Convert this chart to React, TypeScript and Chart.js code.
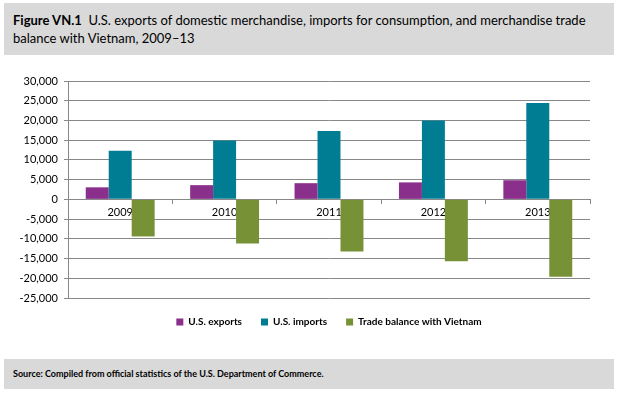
import React, { useEffect, useRef } from "react";
import { Chart, registerables } from "chart.js";

Chart.register(...registerables);

const years = ["2009", "2010", "2011", "2012", "2013"];
const usExports = [3050, 3600, 4100, 4300, 4850];
const usImports = [12300, 14900, 17300, 20000, 24400];
const tradeBalance = [-9400, -11200, -13200, -15700, -19600];
const yMin = -25000;
const yMax = 30000;
const yStep = 5000;

const FONT = "Lato, 'Open Sans', sans-serif";

// Centre the legend on the plot area (as in the original) rather than on the canvas.
const centerLegendOnPlot = {
  id: "centerLegendOnPlot",
  afterLayout(chart: any) {
    const lg = chart.legend;
    const ca = chart.chartArea;
    if (!lg || !ca) return;
    lg.left = ca.left;
    lg.right = ca.right;
    lg.width = ca.right - ca.left;
  },
};

function TradeChart() {
  const ref = useRef<HTMLCanvasElement | null>(null);
  useEffect(() => {
    if (!ref.current) return;
    const chart = new Chart(ref.current, {
      type: "bar",
      data: {
        labels: years,
        datasets: [
          { label: "U.S. exports", data: usExports, backgroundColor: "#8B2F8C" },
          { label: "U.S. imports", data: usImports, backgroundColor: "#007D92" },
          { label: "Trade balance with Vietnam", data: tradeBalance, backgroundColor: "#779137" },
        ],
      },
      plugins: [centerLegendOnPlot],
      options: {
        animation: false,
        responsive: true,
        maintainAspectRatio: false,
        layout: { padding: { left: 0, right: 30, top: 21, bottom: 13 } },
        datasets: { bar: { categoryPercentage: 0.66, barPercentage: 1 } },
        plugins: {
          legend: {
            position: "bottom",
            labels: {
              boxWidth: 7,
              boxHeight: 7,
              color: "#000",
              font: { family: FONT, size: 10, weight: "bold" },
              padding: 19,
            },
          },
          tooltip: { enabled: false },
        },
        scales: {
          x: {
            position: { y: 0 },
            grid: {
              display: true,
              drawOnChartArea: false,
              drawTicks: true,
              tickLength: 4,
              color: "#888",
              offset: true,
            },
            border: { display: true, color: "#888" },
            ticks: { color: "#000", font: { family: FONT, size: 11 }, padding: 2 },
          },
          y: {
            min: yMin,
            max: yMax,
            ticks: {
              stepSize: yStep,
              color: "#000",
              font: { family: FONT, size: 11 },
              padding: 6,
            },
            grid: { color: "#888", tickLength: 4 },
            border: { display: true, color: "#888" },
            afterFit: (scale: any) => {
              scale.width = 68;
            },
          },
        },
      },
    });
    return () => chart.destroy();
  }, []);
  return <canvas ref={ref} />;
}

export default function App() {
  return (
    <div
      style={{
        position: "fixed",
        left: 0,
        top: 0,
        width: 620,
        height: 398,
        background: "#fff",
        fontFamily: FONT,
      }}
    >
      <div
        style={{
          position: "absolute",
          left: 4,
          top: 3,
          width: 610,
          height: 52,
          background: "#D9D9D9",
          boxSizing: "border-box",
          padding: "8px 0 0 9px",
          fontSize: 13,
          lineHeight: "18px",
          color: "#000",
        }}
      >
        <b>Figure VN.1</b>&nbsp; U.S. exports of domestic merchandise, imports for consumption, and merchandise trade
        <br />
        balance with Vietnam, 2009–13
      </div>
      <div style={{ position: "absolute", left: 0, top: 60, width: 620, height: 290 }}>
        <TradeChart />
      </div>
      <div
        style={{
          position: "absolute",
          left: 4,
          top: 359,
          width: 610,
          height: 30,
          background: "#D9D9D9",
          boxSizing: "border-box",
          padding: "8px 0 0 9px",
          fontSize: 9,
          lineHeight: "14px",
          fontWeight: 700,
          color: "#000",
        }}
      >
        Source: Compiled from official statistics of the U.S. Department of Commerce.
      </div>
    </div>
  );
}
